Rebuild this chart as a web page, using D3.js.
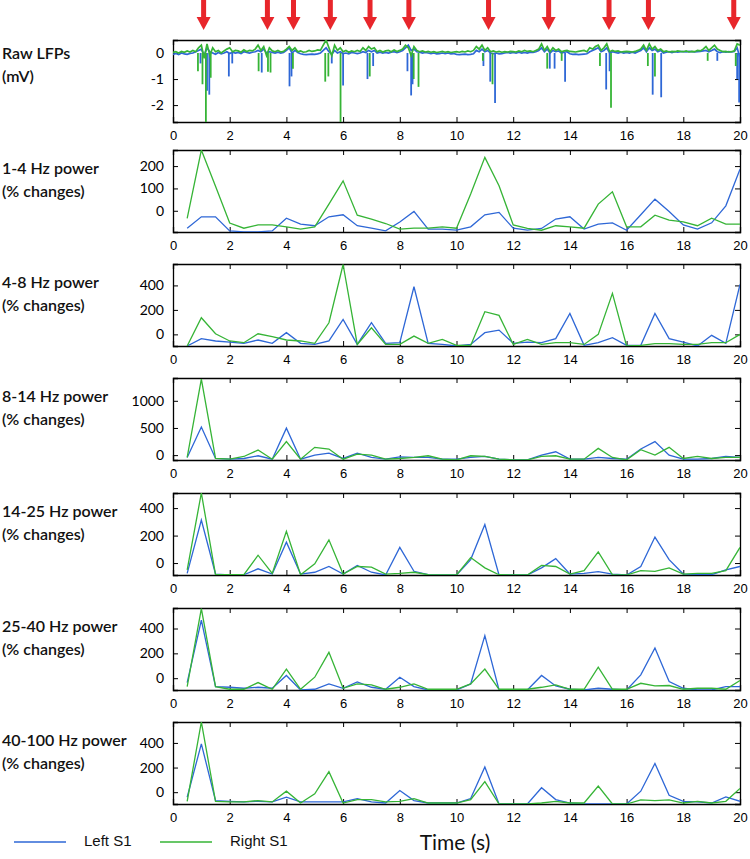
<!DOCTYPE html>
<html><head><meta charset="utf-8">
<script src="https://cdn.jsdelivr.net/npm/d3@7"></script>
<style>body{margin:0;background:#fff}svg{display:block}</style>
</head><body>
<script>
// ---------- DATA ----------
const times = [0.5,1,1.5,2,2.5,3,3.5,4,4.5,5,5.5,6,6.5,7,7.5,8,8.5,9,9.5,10,10.5,11,11.5,12,12.5,13,13.5,14,14.5,15,15.5,16,16.5,17,17.5,18,18.5,19,19.5,20];
const xTicks = [0,2,4,6,8,10,12,14,16,18,20];
const arrowTimes = [1.08,3.33,4.25,5.55,6.95,8.32,11.13,13.25,15.38,16.77,19.78];

// Raw LFP baseline samples every 0.1 s (0..20)
const rawRight = [0.02,0.05,0.0,0.06,0.03,0.08,0.04,0.1,0.05,0.2,
0.3,-0.2,0.35,-0.1,0.2,0.05,0.1,0.0,0.08,0.15,
0.2,0.05,0.1,0.08,0.03,0.12,0.06,0.1,0.08,0.15,
0.3,0.1,0.25,-0.1,0.2,0.08,0.05,0.1,0.04,0.06,
0.15,0.25,0.1,0.2,0.05,0.08,0.03,0.05,0.1,0.06,
0.08,0.12,0.1,0.3,0.5,0.2,-0.1,0.3,0.1,0.2,
0.05,0.1,0.03,0.08,0.05,0.1,0.06,0.2,0.1,0.25,
0.15,0.2,0.05,0.1,0.04,0.08,0.1,0.05,0.12,0.06,
0.1,0.15,0.3,0.2,-0.1,0.25,0.1,0.05,0.08,0.04,
0.06,0.03,0.05,0.02,0.04,0.06,0.03,0.05,0.02,0.04,
0.05,0.03,0.06,0.04,0.08,0.05,0.1,0.25,0.15,0.3,
0.1,0.2,0.05,0.08,0.04,0.06,0.03,0.05,0.04,0.06,
0.05,0.04,0.08,0.05,0.1,0.06,0.08,0.05,0.1,0.15,
0.35,0.1,0.25,0.05,0.2,0.1,0.15,0.05,0.08,0.1,
0.06,0.05,0.04,0.06,0.08,0.1,0.05,0.2,0.15,0.25,
0.3,0.1,0.2,0.35,0.05,0.1,0.06,0.08,0.04,0.05,
0.06,0.05,0.04,0.06,0.1,0.15,0.3,0.1,0.35,0.15,
0.25,0.1,0.15,0.05,0.08,0.04,0.06,0.05,0.08,0.06,
0.05,0.08,0.04,0.06,0.05,0.1,0.08,0.15,0.25,0.1,
0.2,0.3,0.15,0.1,0.05,0.06,0.04,0.05,0.08,0.35,
0.3];
const rawLeft = [-0.05,-0.02,-0.06,0.0,-0.03,-0.05,-0.02,0.0,0.05,0.1,
0.15,-0.1,0.2,0.05,0.0,-0.05,0.02,-0.03,0.0,0.05,
-0.02,0.03,0.0,0.02,-0.02,0.05,0.02,0.0,0.03,0.05,
0.1,0.05,0.15,0.0,0.05,0.02,0.0,0.03,0.0,0.02,
0.1,0.2,0.0,0.1,0.02,-0.03,-0.05,-0.06,-0.05,-0.04,
-0.05,-0.03,0.0,0.1,0.2,0.05,-0.05,0.1,0.0,0.05,
-0.02,0.0,-0.03,0.02,0.0,-0.02,0.0,0.05,0.02,0.1,
0.05,0.1,0.0,0.03,0.0,0.02,0.0,0.03,0.05,0.02,
0.05,0.1,0.2,0.3,0.1,0.15,0.05,0.03,0.0,0.02,
0.0,-0.02,0.0,-0.03,-0.02,0.0,-0.02,0.0,-0.03,-0.02,
-0.05,-0.06,-0.05,-0.04,-0.06,-0.05,-0.03,0.1,0.05,0.15,
0.05,0.1,0.0,-0.02,0.0,-0.03,-0.02,0.0,0.02,0.0,
0.02,0.0,0.03,0.0,0.02,0.0,0.03,0.02,0.05,0.1,
0.2,0.05,0.15,0.0,0.1,0.05,0.08,0.0,0.03,0.05,
-0.03,-0.05,-0.04,-0.06,-0.05,-0.04,-0.03,0.05,0.1,0.15,
0.2,0.05,0.1,0.2,0.0,0.05,0.02,0.0,0.03,0.0,
0.02,0.0,0.03,0.0,0.05,0.1,0.2,0.05,0.2,0.1,
0.15,0.05,0.1,0.0,0.03,0.05,0.02,0.05,0.03,0.05,
0.05,0.04,0.06,0.05,0.04,0.05,0.06,0.08,0.1,0.05,
0.1,0.15,0.05,0.02,0.05,0.03,0.05,0.04,0.06,0.2,
-0.2];
// Raw LFP spikes [time, tip value]
const spikesLeft = [[0.97,-0.4],[1.2,-1.45],[1.28,-1.6],[1.97,-0.9],[2.09,-0.4],[3.13,-0.75],[4.11,-1.28],[4.18,-0.9],[5.6,-0.4],[6.0,-1.25],[6.86,-1.0],[7.06,-0.5],[8.27,-0.7],[8.4,-1.63],[8.45,-1.2],[10.95,-0.5],[11.19,-1.1],[11.36,-1.92],[13.29,-0.6],[13.46,-0.6],[13.83,-1.1],[15.28,-1.4],[15.4,-0.7],[16.92,-1.6],[17.22,-1.7],[19.2,-0.3],[19.9,-1.0],[19.97,-1.9]];
const spikesRight = [[0.88,-0.7],[1.04,-1.2],[1.16,-2.65],[1.33,-0.95],[3.02,-0.7],[3.35,-0.72],[3.44,-0.75],[4.23,-0.6],[5.37,-1.1],[5.48,-0.9],[5.91,-2.65],[6.94,-0.9],[8.49,-1.0],[8.66,-1.3],[10.93,-0.3],[11.27,-1.2],[13.2,-0.6],[13.71,-0.3],[15.06,-0.5],[15.45,-2.1],[16.75,-0.5],[17.0,-0.9],[18.86,-0.3],[19.85,-0.5]];

// Band power (% changes), Left S1 and Right S1
const delta_L = [-78,-27,-27,-90,-94,-94,-90,-33,-60,-67,-27,-18,-67,-78,-90,-50,-3,-82,-82,-87,-72,-18,-7,-78,-87,-79,-37,-27,-82,-60,-54,-87,-18,52,-3,-63,-82,-54,22,186];
const delta_R = [-34,272,110,-55,-78,-63,-63,-72,-82,-72,30,134,-20,-37,-57,-82,-78,-78,-72,-78,75,239,112,-63,-79,-87,-67,-72,-78,30,85,-72,-72,-20,-42,-50,-67,-33,-60,-60];
const theta_L = [-95,-35,-54,-63,-73,-46,-73,14,-73,-82,-54,122,-82,95,-73,-68,389,-73,-82,-95,-82,14,35,-73,-63,-68,-35,171,-90,-68,-27,-90,-90,171,-35,-63,-95,-8,-73,408];
const theta_R = [-95,136,5,-54,-68,5,-19,-46,-54,-73,95,571,-82,54,-82,-82,-14,-73,-41,-90,-90,185,155,-82,-41,-82,-68,-68,-82,0,335,-95,-90,-76,-76,-82,-82,-68,-68,0];
const alpha_L = [-43,516,-62,-75,-62,-12,-75,497,-75,0,37,-62,37,-43,-75,-31,-43,-43,-75,-75,-43,-25,-75,-87,-87,0,62,-75,-75,-43,-62,-75,112,248,0,-75,-75,-62,-25,-43];
const alpha_R = [-43,1400,-62,-75,-25,93,-75,248,-75,143,112,-75,18,0,-75,-62,-43,-12,-75,-87,-12,-25,-75,-87,-87,-25,-12,-75,-75,124,-43,-87,99,0,143,-62,-25,-62,-43,-43];
const beta_L = [-75,313,-80,-87,-85,-42,-80,152,-80,-67,-25,-80,-17,-67,-87,114,-60,-85,-87,-87,25,281,-87,-87,-87,-35,32,-80,-75,-62,-80,-87,-25,189,25,-80,-85,-85,-50,-25];
const beta_R = [-50,510,-85,-85,-85,57,-75,231,-85,-5,169,-80,-25,-30,-80,-75,-67,-85,-87,-87,40,-35,-85,-87,-87,-17,-25,-80,-55,82,-85,-87,-55,-60,-35,-80,-75,-75,-55,114];
const lowGamma_L = [-35,468,-68,-73,-81,-73,-81,22,-95,-89,-46,-81,-30,-73,-89,8,-68,-95,-95,-95,-46,343,-95,-95,-95,22,-62,-89,-95,-81,-89,-95,27,243,-27,-81,-95,-95,-68,-68];
const lowGamma_R = [-68,560,-68,-89,-89,-35,-89,73,-89,8,208,-81,-46,-54,-89,-73,-46,-89,-89,-89,-46,73,-89,-89,-89,-73,-54,-89,-89,89,-89,-89,-41,-62,-59,-89,-81,-81,-89,-19];
const highGamma_L = [-41,392,-68,-74,-79,-74,-79,-41,-79,-79,-79,-79,-52,-79,-88,14,-68,-88,-88,-88,-52,205,-96,-96,-96,36,-60,-88,-96,-96,-96,-96,8,233,-25,-74,-79,-88,-38,-74];
const highGamma_R = [-74,570,-74,-79,-79,-68,-79,8,-88,-14,167,-88,-60,-60,-79,-74,-52,-88,-88,-88,-60,85,-96,-96,-96,-88,-74,-88,-88,49,-96,-96,-63,-68,-63,-88,-74,-88,-74,30];

const bandLabels = ["1-4 Hz power","4-8 Hz power","8-14 Hz power","14-25 Hz power","25-40 Hz power","40-100 Hz power"];
const bandYTicks = [[0,100,200],[0,200,400],[0,500,1000],[0,200,400],[0,200,400],[0,200,400]];
const bandDomains = [[-95,272],[-95,575],[-90,1420],[-87,510],[-95,565],[-96,570]];
const bandLeft = [delta_L,theta_L,alpha_L,beta_L,lowGamma_L,highGamma_L];
const bandRight = [delta_R,theta_R,alpha_R,beta_R,lowGamma_R,highGamma_R];
const rawYTicks = [-2,-1,0];
const legendLabels = ["Left S1","Right S1"];

// ---------- STYLE / LAYOUT ----------
const W = 750, H = 859;
const BLUE = "#2e67d6", GREEN = "#36b436", RED = "#e8262b";
const L = 173, R = 740, PH = 82;
const tops = [40,150,264,378,493,608,722];
const labelFont = "Lato, 'Open Sans', sans-serif";
const tickFont = "'Liberation Sans', Arial, sans-serif";
const plain = d => String(d);

const svg = d3.select("body").append("svg").attr("width", W).attr("height", H);
const x = d3.scaleLinear().domain([0,20]).range([L,R]);

function panel(top, domain, yTicks) {
  const y = d3.scaleLinear().domain(domain).range([top+PH, top]);
  const g = svg.append("g");
  const id = "clip" + top;
  svg.append("clipPath").attr("id", id).append("rect").attr("x", L).attr("y", top).attr("width", R-L).attr("height", PH);
  const plot = svg.append("g").attr("clip-path", `url(#${id})`);
  const bottom = g.append("g").attr("transform", `translate(0,${top+PH})`)
    .call(d3.axisBottom(x).tickValues(xTicks).tickSize(-5).tickPadding(9).tickFormat(plain));
  const topAx = g.append("g").attr("transform", `translate(0,${top})`)
    .call(d3.axisTop(x).tickValues(xTicks).tickSize(-5).tickFormat(""));
  const leftAx = g.append("g").attr("transform", `translate(${L},0)`)
    .call(d3.axisLeft(y).tickValues(yTicks).tickSize(-5).tickPadding(9).tickFormat(plain));
  const rightAx = g.append("g").attr("transform", `translate(${R},0)`)
    .call(d3.axisRight(y).tickValues(yTicks).tickSize(-5).tickFormat(""));
  [bottom, topAx, leftAx, rightAx].forEach(a => {
    a.select(".domain").attr("stroke", "#000").attr("stroke-width", 1.3);
    a.selectAll(".tick line").attr("stroke", "#000").attr("stroke-width", 1);
  });
  bottom.selectAll(".tick text").attr("font-family", tickFont).attr("font-size", 13).attr("fill", "#000");
  leftAx.selectAll(".tick text").attr("font-family", labelFont).attr("font-size", 14).attr("fill", "#000");
  return {y, plot, g};
}

function leftLabel(top, l1, l2, off1, off2) {
  svg.append("text").attr("x", 2).attr("y", top+off1).attr("dominant-baseline","middle")
    .attr("font-family", labelFont).attr("font-size", 16).attr("font-weight", 600).attr("fill","#111").text(l1);
  svg.append("text").attr("x", 2).attr("y", top+off2).attr("dominant-baseline","middle")
    .attr("font-family", labelFont).attr("font-size", 16).attr("font-weight", 600).attr("fill","#111").text(l2);
}

// ---------- RAW PANEL ----------
{
  const p = panel(tops[0], [-2.65, 0.5], rawYTicks);
  const line = d3.line().x((d,i)=>x(i*0.1)).y(d=>p.y(d));
  p.plot.append("path").datum(rawLeft).attr("d", line).attr("fill","none").attr("stroke",BLUE).attr("stroke-width",1.7);
  p.plot.selectAll("line.sl").data(spikesLeft).join("line").attr("class","sl")
    .attr("x1",d=>x(d[0])).attr("x2",d=>x(d[0])).attr("y1",p.y(0)).attr("y2",d=>p.y(d[1]))
    .attr("stroke",BLUE).attr("stroke-width",1.8);
  p.plot.append("path").datum(rawRight).attr("d", line).attr("fill","none").attr("stroke",GREEN).attr("stroke-width",1.7);
  p.plot.selectAll("line.sr").data(spikesRight).join("line").attr("class","sr")
    .attr("x1",d=>x(d[0])).attr("x2",d=>x(d[0])).attr("y1",p.y(0)).attr("y2",d=>p.y(d[1]))
    .attr("stroke",GREEN).attr("stroke-width",1.8);
  leftLabel(tops[0], "Raw LFPs", "(mV)", 15, 38);
}

// ---------- ARROWS ----------
svg.selectAll("g.arrow").data(arrowTimes).join("g").attr("class","arrow")
  .attr("transform", d=>`translate(${x(d)},0)`)
  .each(function(){
    const a = d3.select(this);
    a.append("rect").attr("x",-2.5).attr("y",0).attr("width",5).attr("height",19).attr("fill",RED);
    a.append("path").attr("d","M-7,17 L7,17 L0,30 Z").attr("fill",RED);
  });

// ---------- BAND PANELS ----------
bandLabels.forEach((lab, k) => {
  const top = tops[k+1];
  const p = panel(top, bandDomains[k], bandYTicks[k]);
  const line = d3.line().x((d,i)=>x(times[i])).y(d=>p.y(d));
  p.plot.append("path").datum(bandLeft[k]).attr("d", line).attr("fill","none").attr("stroke",BLUE).attr("stroke-width",1.3);
  p.plot.append("path").datum(bandRight[k]).attr("d", line).attr("fill","none").attr("stroke",GREEN).attr("stroke-width",1.3);
  leftLabel(top, lab, "(% changes)", 20, 43);
});

// ---------- LEGEND & X TITLE ----------
const legendColors = [BLUE, GREEN];
const legendX = [14, 160];
legendLabels.forEach((lab, i) => {
  svg.append("line").attr("x1", legendX[i]).attr("x2", legendX[i]+52).attr("y1", 842).attr("y2", 842)
    .attr("stroke", legendColors[i]).attr("stroke-width", 1.5);
  svg.append("text").attr("x", legendX[i]+70).attr("y", 842).attr("dominant-baseline","middle")
    .attr("font-family", tickFont).attr("font-size", 15).attr("fill","#111").text(lab);
});
svg.append("text").attr("x", 455).attr("y", 845).attr("text-anchor","middle").attr("dominant-baseline","middle")
  .attr("font-family", labelFont).attr("font-size", 21).attr("fill","#111").text("Time (s)");
</script>
</body></html>
